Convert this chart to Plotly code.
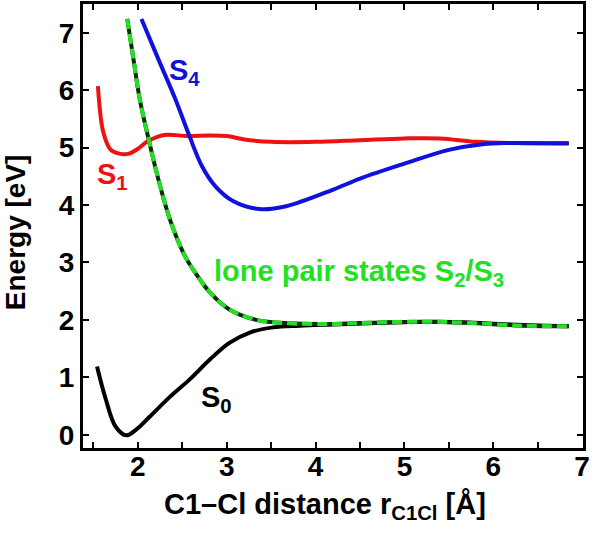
import plotly.graph_objects as go

# ---- data ----
s0_x = [1.54, 1.64, 1.75, 1.87, 1.98, 2.13, 2.36, 2.58, 2.81, 3.03, 3.26, 3.52, 3.82, 4.2, 4.6, 5.0, 5.4, 5.8, 6.2, 6.6, 6.85]
s0_y = [1.19, 0.61, 0.14, -0.01, 0.09, 0.31, 0.66, 0.96, 1.31, 1.60, 1.78, 1.87, 1.90, 1.92, 1.94, 1.96, 1.97, 1.95, 1.92, 1.90, 1.89]

lp_x = [1.88, 1.95, 2.02, 2.12, 2.23, 2.36, 2.53, 2.70, 2.81, 3.03, 3.33, 3.71, 4.19, 4.6, 5.2, 5.7, 6.33, 6.85]
lp_y = [7.24, 6.54, 5.85, 5.15, 4.45, 3.75, 3.11, 2.70, 2.48, 2.18, 2.00, 1.94, 1.93, 1.95, 1.97, 1.95, 1.90, 1.89]

s1_x = [1.55, 1.61, 1.69, 1.78, 1.89, 2.0, 2.11, 2.30, 2.56, 2.80, 3.0, 3.2, 3.5, 4.0, 4.5, 5.0, 5.4, 5.8, 6.2, 6.85]
s1_y = [6.07, 5.27, 4.97, 4.90, 4.89, 4.98, 5.11, 5.22, 5.20, 5.21, 5.20, 5.14, 5.10, 5.10, 5.13, 5.16, 5.16, 5.10, 5.08, 5.08]

s4_x = [2.04, 2.23, 2.42, 2.58, 2.72, 2.87, 3.07, 3.37, 3.67, 4.2, 4.5, 5.0, 5.5, 5.88, 6.18, 6.85]
s4_y = [7.24, 6.54, 5.85, 5.20, 4.68, 4.33, 4.07, 3.93, 3.98, 4.27, 4.46, 4.72, 4.96, 5.06, 5.08, 5.07]

x_ticks = [1.5, 2, 2.5, 3, 3.5, 4, 4.5, 5, 5.5, 6, 6.5, 7]
x_tick_text = ["", "2", "", "3", "", "4", "", "5", "", "6", "", "7"]
y_ticks = [0, 1, 2, 3, 4, 5, 6, 7]

RED = "#ee1111"
BLUE = "#1111dd"
GREEN = "#22e022"
DARK = "#0d2a0d"
FONT = "Liberation Sans"

fig = go.Figure()
fig.add_trace(go.Scatter(x=s0_x, y=s0_y, mode="lines", line=dict(color="black", width=4, shape="spline", smoothing=1.0)))
fig.add_trace(go.Scatter(x=s1_x, y=s1_y, mode="lines", line=dict(color=RED, width=4, shape="spline", smoothing=1.0)))
fig.add_trace(go.Scatter(x=s4_x, y=s4_y, mode="lines", line=dict(color=BLUE, width=4, shape="spline", smoothing=1.0)))
fig.add_trace(go.Scatter(x=lp_x, y=lp_y, mode="lines", line=dict(color=DARK, width=4, shape="spline", smoothing=1.0)))
fig.add_trace(go.Scatter(x=lp_x, y=lp_y, mode="lines", line=dict(color=GREEN, width=4, dash="10px,5px", shape="spline", smoothing=1.0)))

def ann(text, x, y, color, **kw):
    d = dict(text=text, x=x, y=y, xref="x", yref="y", showarrow=False,
             font=dict(family=FONT, size=29, color=color, weight="bold"),
             xanchor="left", yanchor="middle")
    d.update(kw)
    fig.add_annotation(**d)

ann("S<sub>4</sub>", 2.33, 6.32, BLUE)
ann("S<sub>1</sub>", 1.52, 4.5, RED)
ann("S<sub>0</sub>", 2.69, 0.62, "black")
ann("lone pair states S<sub>2</sub>/S<sub>3</sub>", 2.83, 2.82, GREEN)

fig.add_annotation(text="C1–Cl distance r<sub>C1Cl</sub> [Å]", x=0.484, y=-0.13, xref="paper", yref="paper",
                   showarrow=False, xanchor="center", yanchor="middle",
                   font=dict(family=FONT, size=29, color="black", weight="bold"))
fig.add_annotation(text="Energy [eV]", x=-0.136, y=0.486, xref="paper", yref="paper", textangle=-90,
                   showarrow=False, xanchor="center", yanchor="middle",
                   font=dict(family=FONT, size=28, color="black", weight="bold"))

axis_common = dict(showline=True, linecolor="black", linewidth=3, mirror="ticks",
                   ticks="inside", ticklen=6, tickwidth=2, tickcolor="black",
                   showgrid=False, zeroline=False, automargin=False,
                   tickfont=dict(family=FONT, size=28, color="black", weight="bold"))

fig.update_xaxes(range=[1.382, 7.01], tickmode="array", tickvals=x_ticks, ticktext=x_tick_text,
                 ticklabelstandoff=-9, **axis_common)
fig.update_yaxes(range=[-0.23, 7.5], tickmode="array", tickvals=y_ticks, **axis_common)

fig.update_layout(width=595, height=533, margin=dict(l=83, r=12, t=4, b=85),
                  plot_bgcolor="white", paper_bgcolor="white", showlegend=False)

fig.write_html("out.html", config={"displayModeBar": False},
               post_script="document.body.style.margin='0';document.body.style.overflow='hidden';")
